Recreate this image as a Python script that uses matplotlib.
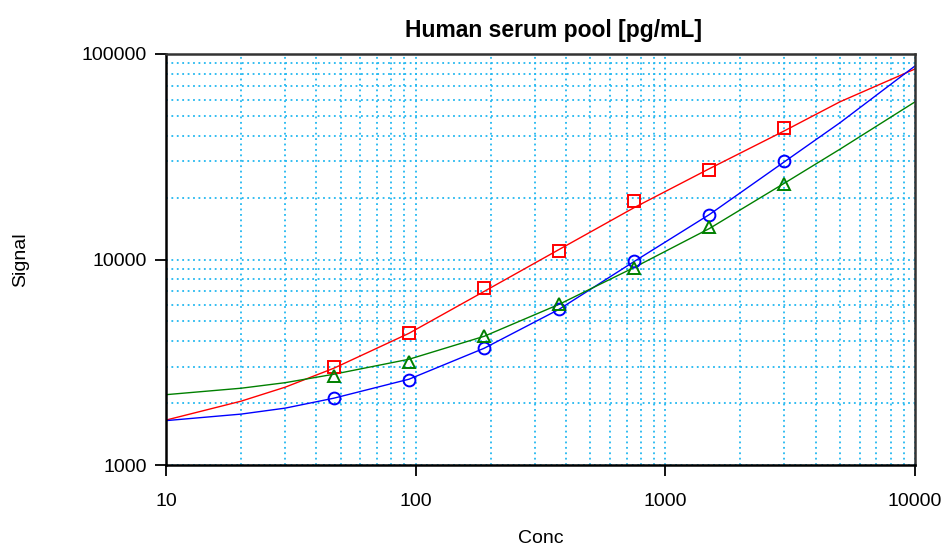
import matplotlib
matplotlib.use('Agg')
import matplotlib.pyplot as plt
from matplotlib.ticker import FixedLocator, NullFormatter, LogLocator

plt.rcParams['font.family'] = ['Liberation Sans', 'DejaVu Sans']

# measured standards (serial dilution)
conc = [46.875, 93.75, 187.5, 375, 750, 1500, 3000]
red_signal = [2990, 4375, 7300, 10940, 19300, 27200, 43500]
blue_signal = [2120, 2600, 3720, 5720, 9850, 16500, 30300]
green_signal = [2720, 3180, 4220, 6080, 9100, 14450, 23400]

# fitted curves
fit_conc = [10, 20, 30, 47, 94, 188, 375, 750, 1500, 3000, 5000, 10000]
red_fit = [1654, 2045, 2391, 2957, 4373, 6993, 11180, 17880, 27650, 42290, 58500, 84550]
blue_fit = [1644, 1769, 1891, 2114, 2615, 3698, 5719, 9779, 16540, 29900, 46240, 87430]
green_fit = [2199, 2364, 2515, 2765, 3270, 4229, 6047, 9146, 14140, 23520, 34390, 58480]

x_ticks = [10, 100, 1000, 10000]
y_ticks = [1000, 10000, 100000]

fig = plt.figure(figsize=(9.44, 5.46), dpi=100)
ax = fig.add_axes([166 / 944, 81 / 546, 749 / 944, 411 / 546])
ax.set_xscale('log')
ax.set_yscale('log')
ax.set_xlim(10, 10000)
ax.set_ylim(1000, 100000)

# grid on every decade step, dotted light blue
ax.set_axisbelow(True)
ax.xaxis.set_minor_locator(LogLocator(base=10, subs=range(2, 10), numticks=20))
ax.yaxis.set_minor_locator(LogLocator(base=10, subs=range(2, 10), numticks=20))
ax.grid(which='both', color='#22B8F0', linestyle=(0, (1, 2)), linewidth=1.3)

ax.plot(fit_conc, red_fit, color='#FF0000', linewidth=1.0)
ax.plot(fit_conc, blue_fit, color='#0000FF', linewidth=1.0)
ax.plot(fit_conc, green_fit, color='#008000', linewidth=1.0)
ax.plot(conc, red_signal, linestyle='none', marker='s', markersize=8.5,
        markerfacecolor='none', markeredgecolor='#FF0000', markeredgewidth=1.4)
ax.plot(conc, blue_signal, linestyle='none', marker='o', markersize=8.5,
        markerfacecolor='none', markeredgecolor='#0000FF', markeredgewidth=1.4)
ax.plot(conc, green_signal, linestyle='none', marker='^', markersize=8.5,
        markerfacecolor='none', markeredgecolor='#008000', markeredgewidth=1.4)

ax.xaxis.set_major_locator(FixedLocator(x_ticks))
ax.yaxis.set_major_locator(FixedLocator(y_ticks))
ax.set_xticklabels([str(t) for t in x_ticks])
ax.set_yticklabels([str(t) for t in y_ticks])
ax.xaxis.set_minor_formatter(NullFormatter())
ax.yaxis.set_minor_formatter(NullFormatter())
ax.tick_params(which='minor', length=0)
ax.tick_params(which='major', length=8, width=1.3, labelsize=14, color='black')
ax.tick_params(axis='x', pad=12)
ax.tick_params(axis='y', pad=6)

for side in ['left', 'bottom']:
    ax.spines[side].set_linewidth(1.8)
    ax.spines[side].set_color('black')
for side in ['top', 'right']:
    ax.spines[side].set_linewidth(1.8)
    ax.spines[side].set_color('#333333')

ax.set_xlabel('Conc', fontsize=14)
ax.xaxis.set_label_coords(0.5, -0.178)
ax.xaxis.label.set_va('center')
ax.set_ylabel('Signal', fontsize=14)
ax.yaxis.set_label_coords(-0.194, 0.5)
ax.yaxis.label.set_va('center')
ax.text(0.517, 1.058, 'Human serum pool [pg/mL]', transform=ax.transAxes,
        ha='center', va='center', fontsize=16.5, fontweight='bold')

fig.savefig('out.png', dpi=100)
